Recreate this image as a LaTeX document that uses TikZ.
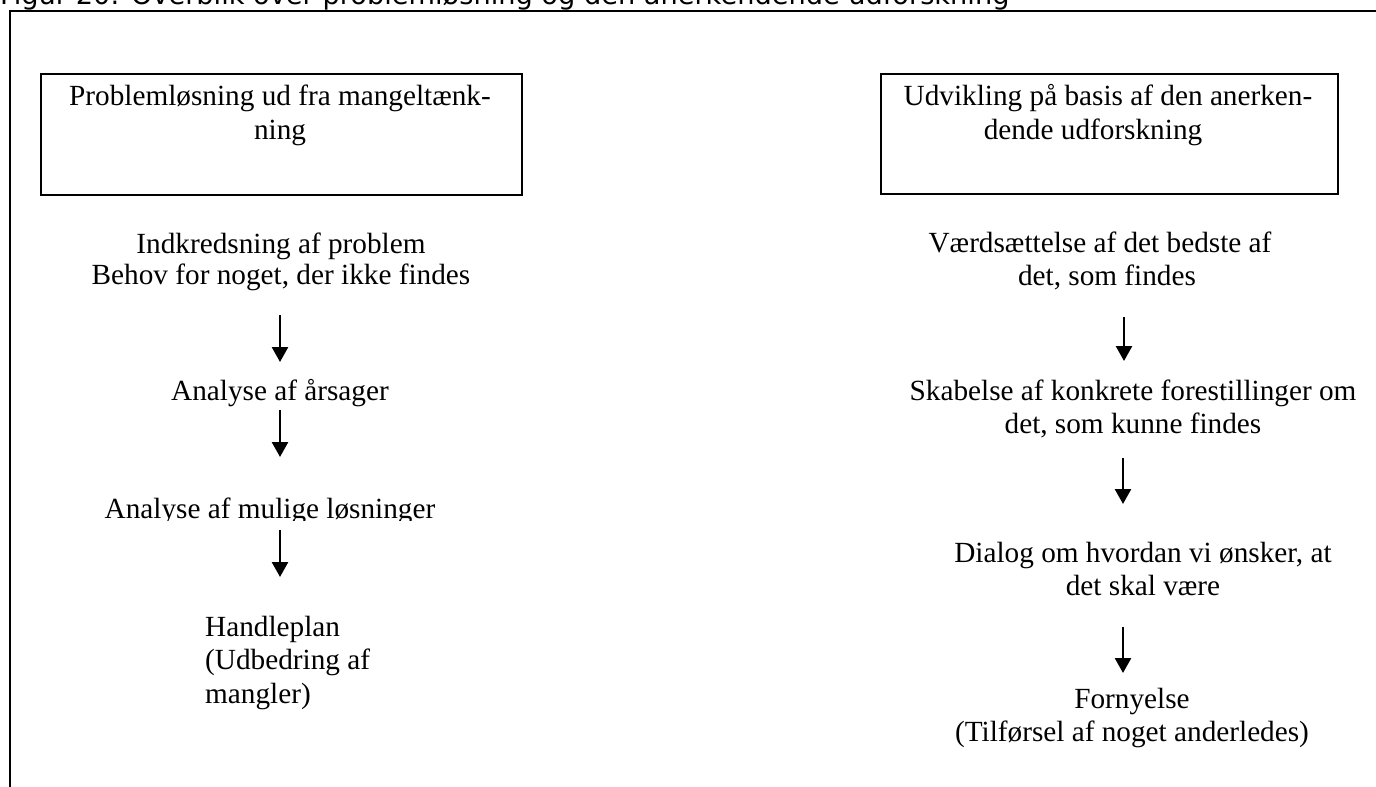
\documentclass[tikz,border=0pt]{standalone}
\usepackage{fontspec}
\setmainfont{Liberation Serif}
\newfontfamily\titlefont{DejaVu Sans}
\usetikzlibrary{arrows.meta}
\tikzset{
  x=1pt,y=-1pt,
  frame/.style={line width=2.2pt},
  headbox/.style={draw,line width=1.7pt},
  txt/.style={inner sep=0pt,anchor=base,align=center,font=\fontsize{29.25}{32.5}\selectfont},
  ltxt/.style={inner sep=0pt,anchor=base west,align=left,font=\fontsize{29.25}{33.5}\selectfont},
  flow/.style={line width=2.6pt,-{Triangle[width=16pt,length=15pt]}},
}
\begin{document}
\begin{tikzpicture}
\useasboundingbox (0,0) rectangle (1376,787);
% title (cut by the page edge)
\node[inner sep=0pt,anchor=base west,font=\titlefont\fontsize{27.2}{30}\selectfont] (title) at (0,5) {Figur 20: Overblik over problemløsning og den anerkendende udforskning};
% outer frame
\draw[frame] (10,800) -- (10,11) -- (1390,11);
% header boxes
\node[headbox,minimum width=481pt,minimum height=121pt,anchor=north west,inner sep=0pt] (lbox) at (40,73) {};
\node[headbox,minimum width=457pt,minimum height=120pt,anchor=north west,inner sep=0pt] (rbox) at (880,73) {};
\node[txt,font=\fontsize{29.25}{33.5}\selectfont] (ltitle) at (280,139) {Problemløsning ud fra mangeltænk-\\ning};
\node[txt,font=\fontsize{29.25}{33.5}\selectfont] (rtitle) at (1108,139) {Udvikling på basis af den anerken-\\dende udforskning\hspace*{30pt}};
% left column
\node[txt,font=\fontsize{29.25}{31}\selectfont] (l1) at (281,284) {Indkredsning af problem\\Behov for noget, der ikke findes};
\node[txt] (l2) at (280,400) {Analyse af årsager};
\begin{scope}
\clip (0,0) rectangle (1376,520);
\node[txt] (l3) at (270,518) {Analyse af mulige løsninger};
\end{scope}
\node[ltxt] (l4) at (205,703) {Handleplan\\(Udbedring af\\mangler)};
\coordinate (la1s) at (280,315); \coordinate (la1e) at (280,362);
\coordinate (la2s) at (280,410); \coordinate (la2e) at (280,457);
\coordinate (la3s) at (280,530); \coordinate (la3e) at (280,577);
\draw[flow] (la1s) -- (la1e);
\draw[flow] (la2s) -- (la2e);
\draw[flow] (la3s) -- (la3e);
% right column
\node[txt] (r1) at (1100,285) {Værdsættelse af det bedste af\\\hspace*{14pt}det, som findes};
\node[txt,font=\fontsize{29.25}{33}\selectfont] (r2) at (1133,433) {Skabelse af konkrete forestillinger om\\det, som kunne findes};
\node[txt] (r3) at (1143,595) {Dialog om hvordan vi ønsker, at\\det skal være};
\node[txt] (r4) at (1132,741) {Fornyelse\\(Tilførsel af noget anderledes)};
\coordinate (ra1s) at (1124,317); \coordinate (ra1e) at (1124,361);
\coordinate (ra2s) at (1123,458); \coordinate (ra2e) at (1123,504);
\coordinate (ra3s) at (1123,627); \coordinate (ra3e) at (1123,673);
\draw[flow] (ra1s) -- (ra1e);
\draw[flow] (ra2s) -- (ra2e);
\draw[flow] (ra3s) -- (ra3e);
\end{tikzpicture}
\end{document}
